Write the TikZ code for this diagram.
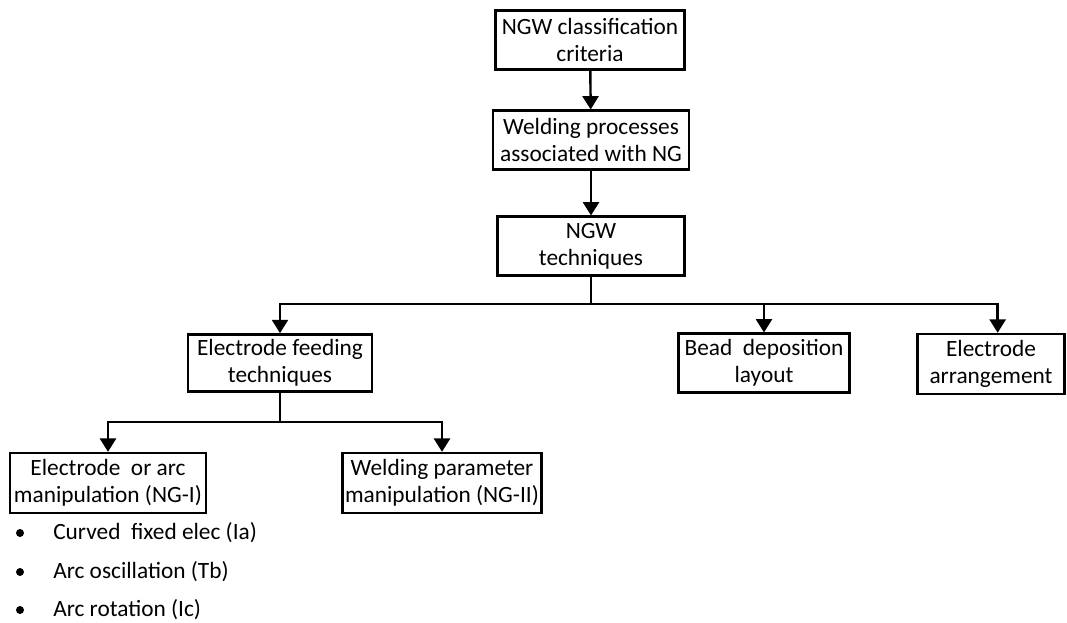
\documentclass[tikz,border=0pt]{standalone}
\usepackage{fontspec}
\setmainfont{Carlito}
\usetikzlibrary{positioning,arrows.meta}
\tikzset{
  ngwpic/.style={
    x=0.75pt,y=-0.75pt
    ,font=\fontsize{17.5}{20.5}\selectfont
  }
  ,box/.style={draw=black,line width=1.8pt,align=center
    ,inner sep=0pt,minimum height=44pt}
  ,link/.style={line width=1.8pt}
  ,arrow/.style={link,-{Triangle[width=12pt,length=10pt]}}
  ,item/.style={anchor=west,inner sep=0pt}
  ,dot/.style={circle,fill=black,inner sep=0pt,minimum size=6pt}
}
\begin{document}
\begin{tikzpicture}[ngwpic]
  \useasboundingbox (0,0) rectangle (1067,622);
  % main column
  \node[box,minimum width=142pt] (crit) at (590,40) {NGW classification\\criteria};
  \node[box,minimum width=147pt] (proc) at (591,140) {Welding processes\\associated with NG};
  \node[box,minimum width=140pt] (tech) at (591,246) {NGW\\techniques};

  % techniques
  \node[box,minimum width=138pt,minimum height=43pt] (feed) at (280,363) {Electrode feeding\\techniques};
  \node[box,minimum width=128pt] (bead) at (764,363) {Bead\ \ deposition\\layout};
  \node[box,minimum width=110pt,minimum height=45pt] (arr) at (991,364) {Electrode\\arrangement};

  % feeding techniques
  \node[box,minimum width=147pt,minimum height=45pt] (ngI) at (108,483) {Electrode\ \ or arc\\manipulation (NG-I)};
  \node[box,minimum width=149pt,minimum height=45pt] (ngII) at (442,483) {Welding parameter\\manipulation (NG-II)};

  % NG-I list
  \node[dot] (dot1) at (20,533) {};
  \node[item] (it1) at (53,533) {Curved\ \ fixed elec (Ia)};
  \node[dot] (dot2) at (20,572) {};
  \node[item] (it2) at (53,572) {Arc oscillation (Tb)};
  \node[dot] (dot3) at (20,610) {};
  \node[item] (it3) at (53,610) {Arc rotation (Ic)};

  % connectors
  \draw[arrow] (crit) -- (proc);
  \draw[arrow] (proc) -- (tech);
  \coordinate (split) at (tech.south |- 0,304);
  \draw[link] (tech.south) -- (split);
  \draw[arrow] (split) -| (feed.north);
  \draw[arrow] (split) -| (bead.north);
  \draw[arrow] (split) -| ([xshift=5pt]arr.north);
  \coordinate (split2) at (feed.south |- 0,422);
  \draw[link] (feed.south) -- (split2);
  \draw[arrow] (split2) -| (ngI.north);
  \draw[arrow] (split2) -| (ngII.north);
\end{tikzpicture}
\end{document}
